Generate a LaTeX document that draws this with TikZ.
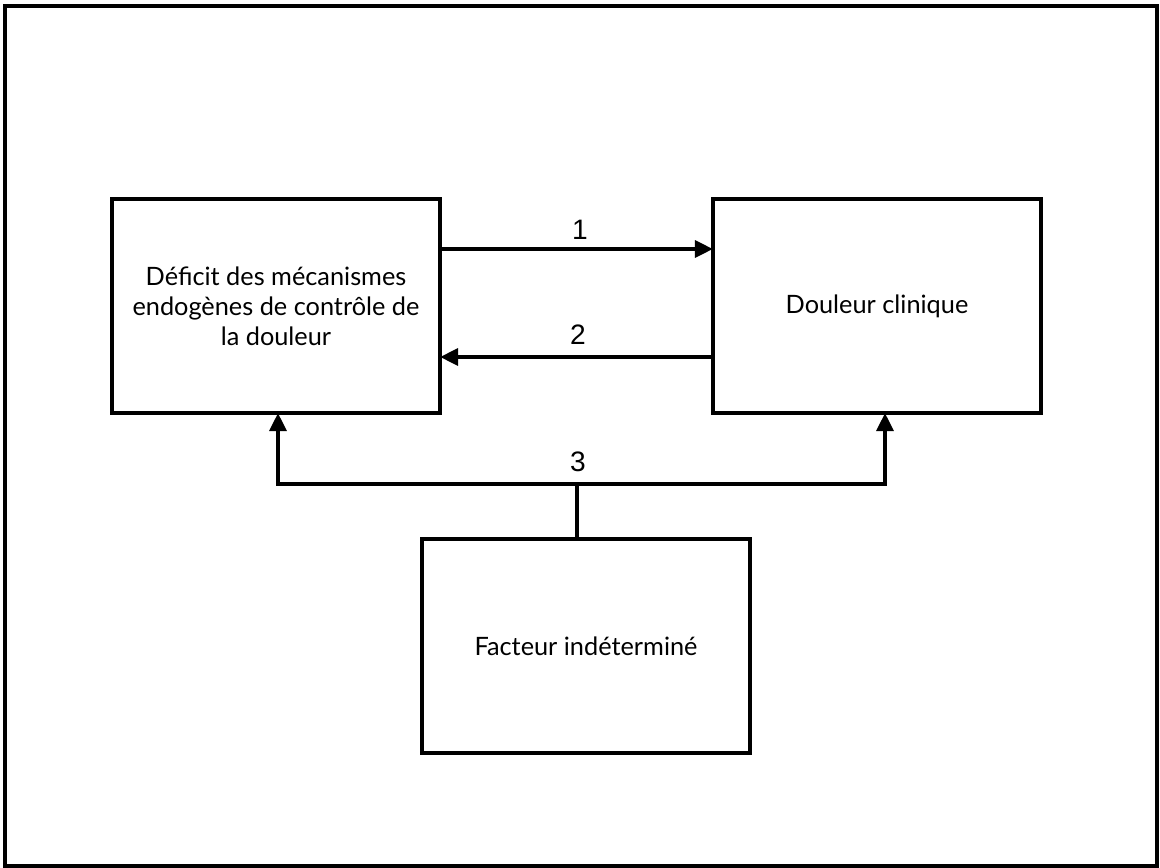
\documentclass[tikz,border=0pt]{standalone}
\usepackage{fontspec}
\setmainfont{Lato}
\newfontfamily\chiffres{Liberation Sans}
\usetikzlibrary{arrows.meta}

\begin{document}
\begin{tikzpicture}[x=0.025cm,y=-0.025cm,
  boite/.style={draw,line width=2.8pt,outer sep=0pt,minimum width=8.2cm,minimum height=5.35cm,align=center,font=\fontsize{18}{21.2}\selectfont},
  fleche/.style={line width=2.6pt,-{Triangle[length=0.45cm,width=0.42cm]}},
  trait/.style={line width=2.6pt},
  numero/.style={font=\chiffres\fontsize{20}{24}\selectfont}]
\useasboundingbox (0,0) rectangle (1160,868);
\draw[line width=2.2pt] (5,6) rectangle (1157,866);
% les trois boites
\node[boite] (deficit) at (276,306) {Déficit des mécanismes\\endogènes de contrôle de\\la douleur};
\node[boite] (douleur) at (877,306) {Douleur clinique};
\node[boite] (facteur) at (586,646) {Facteur indéterminé};
% fleches 1 et 2
\coordinate (haut) at (0,249);
\coordinate (bas) at (0,357);
\draw[fleche] (deficit.east |- haut) -- (douleur.west |- haut);
\draw[fleche] (douleur.west |- bas) -- (deficit.east |- bas);
\node[numero] (un) at (580,230) {1};
\node[numero] (deux) at (578,335) {2};
% fleche 3
\coordinate (jonction) at (577,484);
\coordinate (gauche) at (278,484);
\coordinate (droite) at (885,484);
\draw[trait] (jonction) -- (jonction |- facteur.north);
\draw[fleche] (jonction) -- (gauche) -- (gauche |- deficit.south);
\draw[fleche] (jonction) -- (droite) -- (droite |- douleur.south);
\node[numero] (trois) at (578,462) {3};
\end{tikzpicture}
\end{document}
